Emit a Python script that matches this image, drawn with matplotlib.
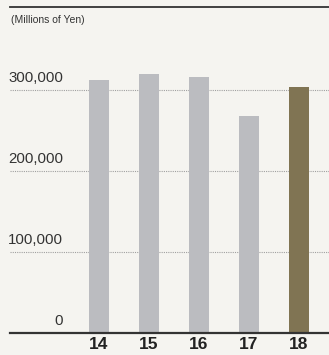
import numpy as np
import matplotlib.pyplot as plt

years = ['14', '15', '16', '17', '18']
values = [312000, 319000, 315500, 267500, 303500]
bar_colors = ['#bbbcc0', '#bbbcc0', '#bbbcc0', '#bbbcc0', '#807453']
yticks = [0, 100000, 200000, 300000]

plt.rcParams['font.family'] = ['Liberation Sans', 'DejaVu Sans']

fig = plt.figure(figsize=(3.29, 3.55), dpi=100)
bg = '#f5f4f0'
fig.patch.set_facecolor(bg)
ax = fig.add_axes([10 / 329, 22.3 / 355, 319 / 329, (332.7 - 7) / 355])
ax.set_facecolor(bg)

x = np.arange(len(years))
ax.bar(x, values, width=0.4, color=bar_colors, zorder=3)
ax.set_xlim(-1.78, 4.6)
ax.set_ylim(0, 402000)

# dotted gridlines
for t in yticks[1:]:
    ax.axhline(t, color='#a0a0a0', linestyle=(0, (1, 1)), linewidth=0.8, zorder=1)

# y labels sit above the gridlines
for t in yticks:
    ax.text(-0.72, t + 6000, f'{t:,}', ha='right', va='bottom', fontsize=10.8,
            color='#333333')

ax.set_yticks([])
ax.set_xticks(x)
ax.set_xticklabels(years, fontsize=12.5, fontweight='bold', color='#222222')
ax.tick_params(axis='x', length=0, pad=3)

for s in ['left', 'right']:
    ax.spines[s].set_visible(False)
ax.spines['bottom'].set_color('#333333')
ax.spines['bottom'].set_linewidth(1.6)
ax.spines['bottom'].set_zorder(4)
ax.spines['top'].set_color('#333333')
ax.spines['top'].set_linewidth(1.3)

fig.text(11 / 329, 1 - 20 / 355, '(Millions of Yen)', ha='left', va='center',
         fontsize=7.5, color='#333333')

fig.savefig('out.png', dpi=100, facecolor=bg)
